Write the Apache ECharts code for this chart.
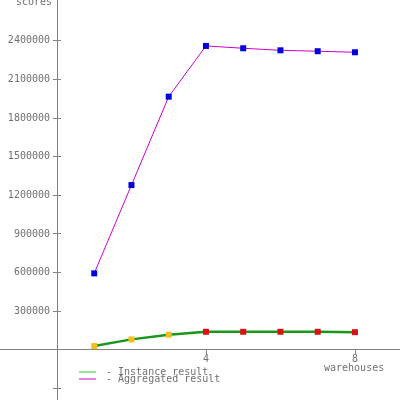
<!DOCTYPE html>
<html>
<head>
<meta charset="utf-8">
<script src="https://cdn.jsdelivr.net/npm/echarts@6/dist/echarts.min.js"></script>
<style>
  html, body { margin: 0; padding: 0; background: #fff; }
  #chart { width: 400px; height: 400px; }
</style>
</head>
<body>
<div id="chart"></div>
<script>
// values
const warehouses = [1, 2, 3, 4, 5, 6, 7, 8]
const instanceScores = [27000, 79000, 115000, 138000, 138000, 138000, 138000, 135000]
const aggregatedScores = [592000, 1278000, 1965000, 2359000, 2341000, 2325000, 2318000, 2310000]
const xTickValues = [4, 8]
const yTickValues = [-300000, 300000, 600000, 900000, 1200000, 1500000, 1800000, 2100000, 2400000]
const yLabelValues = [300000, 600000, 900000, 1200000, 1500000, 1800000, 2100000, 2400000]

const font = 'DejaVu Sans Mono'
const textColor = '#707070'
const axisColor = '#808080'

const chart = echarts.init(document.getElementById('chart'))

const xMin = -1.53
const xMax = 9.21
const yMin = -392000
const yMax = 2716000
const yAxisX = 57

const labelStyle = { color: textColor, fontFamily: font, fontSize: 10 }

// grid 0: full canvas, axis lines cross at zero
// grid 1: starts at the zero lines, only carries the tick labels
chart.setOption({
  animation: false,
  grid: [
    { left: 0, right: 0, top: 0, bottom: 0, outerBoundsMode: 'none' },
    { left: yAxisX, right: 0, top: 0, bottom: 50, outerBoundsMode: 'none' }
  ],
  xAxis: [
    {
      type: 'value', gridIndex: 0, min: xMin, max: xMax,
      splitLine: { show: false },
      axisLine: { onZero: true, lineStyle: { color: axisColor, width: 1 } },
      axisTick: { length: 5, customValues: xTickValues, lineStyle: { color: axisColor } },
      axisLabel: { show: false }
    },
    {
      type: 'value', gridIndex: 1, min: 0, max: xMax,
      splitLine: { show: false },
      axisLine: { show: false },
      axisTick: { show: false },
      axisLabel: Object.assign({ customValues: xTickValues, formatter: v => String(v), margin: 4 }, labelStyle)
    }
  ],
  yAxis: [
    {
      type: 'value', gridIndex: 0, position: 'left', min: yMin, max: yMax,
      splitLine: { show: false },
      axisLine: { onZero: true, lineStyle: { color: axisColor, width: 1 } },
      axisTick: { length: 4, customValues: yTickValues, lineStyle: { color: axisColor } },
      axisLabel: { show: false }
    },
    {
      // inner half of the crossing ticks
      type: 'value', gridIndex: 0, position: 'left', offset: -yAxisX, min: yMin, max: yMax,
      splitLine: { show: false },
      axisLine: { show: false, onZero: false },
      axisTick: { inside: true, length: 4, customValues: yTickValues, lineStyle: { color: axisColor } },
      axisLabel: { show: false }
    },
    {
      type: 'value', gridIndex: 1, position: 'left', min: 0, max: yMax,
      splitLine: { show: false },
      axisLine: { show: false },
      axisTick: { show: false },
      axisLabel: Object.assign({ customValues: yLabelValues, formatter: v => String(v), margin: 7 }, labelStyle)
    }
  ],
  legend: {
    orient: 'vertical',
    left: 74,
    top: 362,
    itemWidth: 17,
    itemHeight: 1,
    itemGap: -3,
    selectedMode: false,
    formatter: name => '- ' + name,
    textStyle: { color: textColor, fontFamily: font, fontSize: 10, padding: [0, 0, 0, 5] },
    data: [
      { name: 'Instance result', icon: 'rect', itemStyle: { color: '#33cc33' } },
      { name: 'Aggregated result', icon: 'rect', itemStyle: { color: '#cc00cc' } }
    ]
  },
  graphic: [
    {
      type: 'text', right: 348, top: -3,
      style: { text: 'scores', fill: textColor, font: '10px "DejaVu Sans Mono"' }
    },
    {
      type: 'text', left: 324, top: 363,
      style: { text: 'warehouses', fill: textColor, font: '10px "DejaVu Sans Mono"' }
    }
  ],
  series: [
    {
      name: 'Instance result',
      type: 'line',
      symbol: 'rect',
      symbolSize: 6,
      lineStyle: { color: '#1a961a', width: 2.5 },
      itemStyle: { color: '#dd1111' },
      data: instanceScores.map((v, i) => ({
        value: [warehouses[i], v],
        itemStyle: { color: i < 3 ? '#f0c020' : '#dd1111' }
      }))
    },
    {
      name: 'Aggregated result',
      type: 'line',
      symbol: 'rect',
      symbolSize: 6,
      lineStyle: { color: '#cc00cc', width: 1 },
      itemStyle: { color: '#0000dd' },
      data: aggregatedScores.map((v, i) => [warehouses[i], v])
    }
  ]
})
</script>
</body>
</html>
